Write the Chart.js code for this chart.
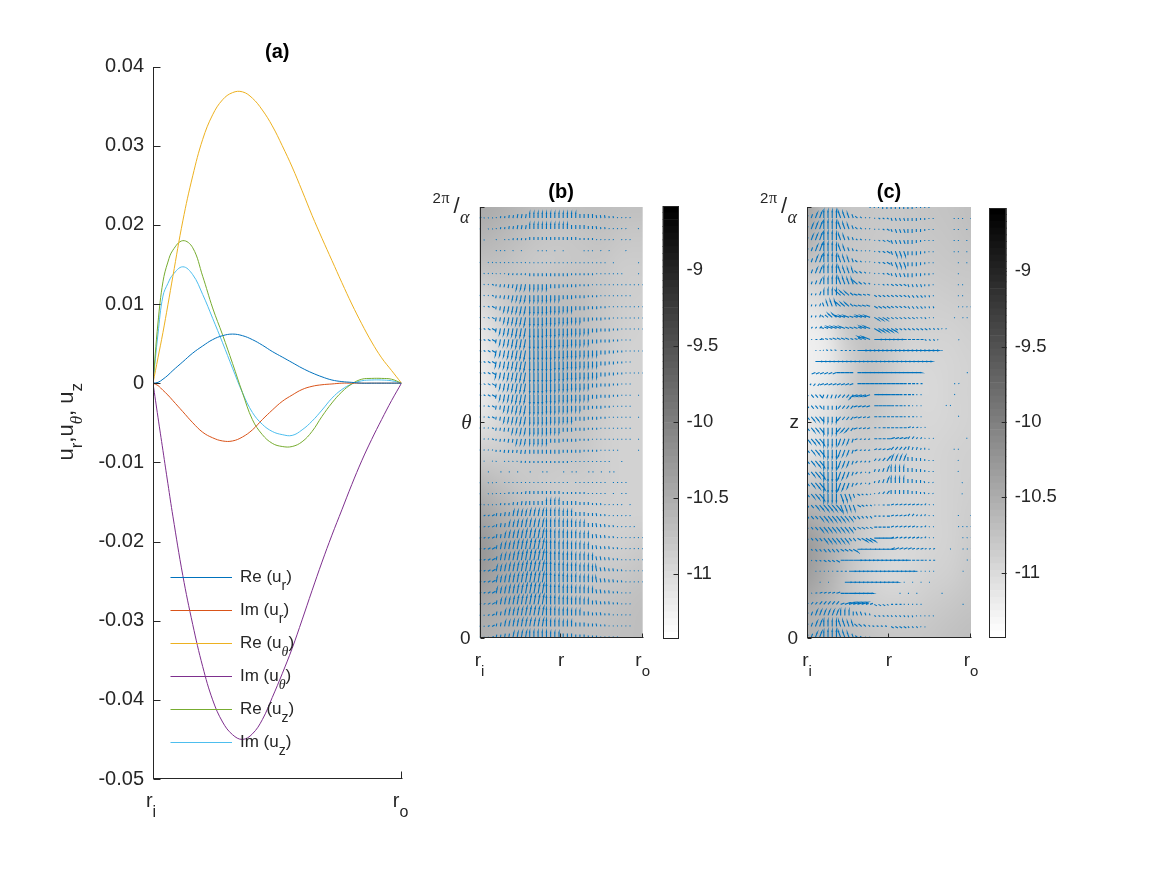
<!DOCTYPE html>
<html><head><meta charset="utf-8">
<script src="https://cdn.jsdelivr.net/npm/chart.js@4"></script>
<style>html,body{margin:0;background:#fff}canvas{position:absolute;left:0;top:0}</style>
</head><body>
<canvas id="a" width="1167" height="875"></canvas>
<canvas id="b" width="1167" height="875"></canvas>
<canvas id="cbB" width="1167" height="875"></canvas>
<canvas id="c" width="1167" height="875"></canvas>
<canvas id="cbC" width="1167" height="875"></canvas>
<script>
const radial = [0,.02,.04,.06,.08,.12,.16,.2,.24,.28,.32,.36,.4,.44,.48,.52,.56,.6,.64,.68,.72,.76,.8,.84,.88,.92,.96,1];
const reUr = [0,.0001,.0005,.0010,.0016,.0027,.0038,.0047,.0055,.0060,.0062,.0060,.0055,.0048,.0040,.0033,.0026,.0019,.0013,.0008,.0004,.0002,.0001,0,0,0,0,0];
const imUr = [0,-.0003,-.0009,-.0015,-.0022,-.0036,-.0050,-.0062,-.0069,-.0073,-.0073,-.0068,-.0059,-.0046,-.0034,-.0023,-.0015,-.0008,-.0004,-.0002,-.0001,0,0,0,0,0,0,0];
const reUt = [0,.0032,.0064,.0099,.0135,.0205,.0262,.0308,.0339,.0358,.0367,.0368,.0360,.0345,.0325,.0300,.0273,.0243,.0212,.0183,.0155,.0127,.0100,.0075,.0052,.0032,.0016,0];
const imUt = [0,-.0043,-.0085,-.0127,-.0168,-.0243,-.0305,-.0358,-.0400,-.0428,-.0444,-.0450,-.0443,-.0425,-.0397,-.0367,-.0335,-.0299,-.0262,-.0226,-.0192,-.0160,-.0128,-.0098,-.0071,-.0046,-.0022,0];
const reUz = [0,.0076,.0128,.0153,.0168,.0180,.0171,.0135,.0095,.0061,.0025,-.0012,-.0046,-.0065,-.0076,-.0080,-.0080,-.0074,-.0061,-.0042,-.0025,-.0011,-.0001,.0005,.0006,.0006,.0005,0];
const imUz = [0,.0062,.0110,.0126,.0137,.0147,.0137,.0112,.0082,.0051,.0019,-.0012,-.0037,-.0052,-.0061,-.0065,-.0066,-.0059,-.0048,-.0034,-.0019,-.0008,-.0001,.0003,.0004,.0004,.0003,0];
const seriesLabels = ['Re (u_r)','Im (u_r)','Re (u_θ)','Im (u_θ)','Re (u_z)','Im (u_z)'];
const seriesColors = ['#0072BD','#D95319','#EDB120','#7E2F8E','#77AC30','#4DBEEE'];
const velocityTicks = [-.05,-.04,-.03,-.02,-.01,0,.01,.02,.03,.04];
const colorTicks = [-11,-10.5,-10,-9.5,-9];

// background log-magnitude: top row first
const fieldB = [
[-10.48,-10.54,-10.62,-10.70,-10.73,-10.70,-10.70,-10.73,-10.73],
[-10.59,-10.65,-10.72,-10.78,-10.80,-10.78,-10.76,-10.80,-10.82],
[-10.75,-10.75,-10.80,-10.84,-10.82,-10.80,-10.82,-10.87,-10.87],
[-10.98,-10.87,-10.76,-10.72,-10.70,-10.72,-10.80,-10.87,-10.89],
[-11.15,-10.98,-10.78,-10.70,-10.68,-10.72,-10.82,-10.89,-10.93],
[-11.21,-11.04,-10.82,-10.72,-10.68,-10.72,-10.84,-10.93,-10.93],
[-11.21,-11.04,-10.84,-10.74,-10.70,-10.74,-10.84,-10.93,-10.93],
[-11.10,-10.98,-10.84,-10.78,-10.74,-10.78,-10.87,-10.93,-10.93],
[-10.87,-10.87,-10.84,-10.82,-10.80,-10.82,-10.89,-10.93,-10.93],
[-10.62,-10.72,-10.80,-10.84,-10.87,-10.87,-10.89,-10.93,-10.93],
[-10.40,-10.54,-10.68,-10.78,-10.84,-10.89,-10.93,-10.93,-10.93],
[-10.26,-10.42,-10.56,-10.68,-10.78,-10.85,-10.89,-10.89,-10.85],
[-10.30,-10.44,-10.56,-10.66,-10.74,-10.80,-10.82,-10.80,-10.76],
[-10.45,-10.50,-10.58,-10.66,-10.72,-10.76,-10.76,-10.74,-10.70],
[-10.52,-10.58,-10.64,-10.68,-10.72,-10.74,-10.74,-10.72,-10.70]];
const fieldC = [
[-10.42,-10.70,-10.78,-10.80,-10.82,-10.80,-10.78,-10.76,-10.72],
[-10.55,-10.76,-10.80,-10.82,-10.84,-10.82,-10.80,-10.78,-10.74],
[-10.82,-10.84,-10.80,-10.84,-10.87,-10.87,-10.84,-10.82,-10.80],
[-11.10,-10.98,-10.76,-10.80,-10.87,-10.89,-10.89,-10.87,-10.85],
[-11.24,-11.15,-10.82,-10.76,-10.84,-10.93,-10.93,-10.93,-10.89],
[-11.26,-11.20,-10.93,-10.74,-10.84,-10.98,-10.98,-10.96,-10.93],
[-11.24,-11.15,-10.90,-10.76,-10.87,-10.98,-11.00,-10.96,-10.93],
[-11.15,-11.06,-10.87,-10.82,-10.89,-10.96,-10.98,-10.96,-10.93],
[-11.12,-10.98,-10.87,-10.87,-10.93,-10.96,-10.96,-10.93,-10.91],
[-10.85,-10.80,-10.84,-10.89,-10.93,-10.96,-10.96,-10.93,-10.89],
[-10.50,-10.62,-10.76,-10.87,-10.95,-10.98,-10.96,-10.93,-10.87],
[-10.30,-10.50,-10.74,-10.90,-10.98,-11.00,-10.96,-10.93,-10.85],
[-10.35,-10.55,-10.78,-10.93,-11.00,-10.98,-10.93,-10.89,-10.82],
[-10.52,-10.64,-10.78,-10.87,-10.91,-10.89,-10.85,-10.80,-10.76],
[-10.58,-10.64,-10.70,-10.76,-10.80,-10.80,-10.78,-10.74,-10.70]];

// arrow magnitudes, one row per line from the top of the panel, one char per column (base 36, '.' = none)
const magB = [
"............................1...........",
"2111122334445555555555554444333221111...",
"1.1112233444555555555544443332211111..1.",
".1..1.112222333333333333222211111.111...",
"....111.1.1...111.1.1....111.1.1...1....",
"1.11111111111111111111111111111.1.....1.",
".1111112222233333333332222221111111...1.",
".112233445555555544433332221111111111111",
"1112334455666666655544433322211111111...",
"1123345566777777766655544433322111111111",
"1123445667788888777666555443332211111111",
"2234456678889999888777666554433322111111",
"2234456678889999888777666554433322111...",
"2234556778899999998887776665544332211111",
"2234556778899999998887776665544332211...",
"2234556778899999998887776665544332211111",
"2234456678889999888777666554433322111...",
"2234456678889999888777666554433322111.1.",
"1123445667788888777666555443332211111...",
"1123345566777777766655544433322111111.1.",
"1112334455666666655544433322211111111...",
".112233445555555544433332221111111111.1.",
"1111223333444444444433333222211111....1.",
".1.11.11112222222222221111111111..1.....",
"..1..1.1.1..1..11...1.11..11.1.11.......",
"1.111.1111111111111111.11111111.1111....",
"1.11111222233333333322222211111.1.11....",
"21111222334444445555444433322211111.1...",
".223334455556666666655544433322111111...",
"12233445566777777777666555444332211111..",
"2223445667788888887776665554433221111111",
"2234456678889999888777666554433322111111",
"2234456678899999988877766655443322111111",
"2234556778899999998887776665544332211111",
"2234556778899999998887776665544332211111",
"2234556778899999988877766655443322111...",
"2234456678889999888777666554433322111...",
"1123445667788888777666555443332211111...",
"1123345566777777766655544433322111111...",
"1112334455666666655544433322211111......"];
const magC = [
"...............111222222221111..........",
"3456777776543211122233333332211....111.1",
"3567888776543211112334444433211....11.1.",
"3567888765432211123444444432111....11.1.",
"3468888765432111123445554443211....11.1.",
"3467888776543211123445554443211.....1.1.",
"2456777776554321112334444433221.....1...",
"2345667777665432112233333333221.....11..",
"2224566666544433333333333333221.....11..",
"2223456665544444444433333333222.....1111",
"1223345555544555555333333322211....1.11.",
"1223345555444466666663333333322211......",
".1223334444334888888883333332221....1...",
"..1112222222aaaaaaaaaaaaaaaaaa111.......",
"..777777777777777777777777777...........",
"1.4444444444455555555555555...........1.",
"1233444444444444444444433322.......11...",
"2444444444455555555444333211.......1....",
"3444444444444444444433322111.....11.....",
"4555555554444433333333322211........1...",
"45566666555443332233333332211...........",
"5667777665543222333444443322111.......1.",
"456778887654322233344444433221.....11...",
"4577888876543222334555554433211.....1...",
"4578899987543212334555554433211.....1...",
"4578899987543212234555554433211......1..",
"4567888887543221123444444332211......1..",
"3456777776554322112333333332211.........",
"3445666665544333222333333322211.....1..1",
"2345555555544433333333333322211.....1111",
"2344555555444666665533333332211......111",
"1233444444455556666644444333222...1..111",
"1122333444499999999999833333222.......11",
"..11111222777777777777777111111......1..",
"...1.1...777777777777..1.1.1.1..........",
"1123333444777771......1.1.1.....1.......",
"2334444445666633333222211111.........1..",
"3455555555544432222222222211111.........",
"34566666665544322222333322211...........",
"3456677776543211........................"];
// arrow headings in tens of degrees (base 36) counter-clockwise from +r, one char per block of four columns
const headB = [
"2889999aaa","2889999aaa","2889999aaa","2889999aaa","2889999aaa","xqqrrrrrrr",
"xqqrrrrrrr","xqqrrrrrrr","xqqrrrrrrr","xqqrrrrrrr","xqqrrrrrrr","xqqrrrrrrr",
"xqqrrrrrrr","xqqrrrrrrr","xqqrrrrrrr","xqqrrrrrrr","xqqrrrrrrr","xqqrrrrrrr",
"xqqrrrrrrr","xqqrrrrrrr","xqqrrrrrrr","xqqrrrrrrr","xqqrrrrrrr","xqqrrrrrrr",
"0000000000","3899999999","3889999999","3889999aaa","3888999aaa","3888999aaa",
"3888999aaa","3888999aaa","3888999aaa","3888999aaa","3888999aaa","3888999aaa",
"3888999aaa","3888999aaa","3888999aaa","3889999aaa"];
const headC = [
"rrrrrrrrrr","79bextrrrr","79bextrrrr","79bextrrrr","79bextrrrr","79bextrrrr",
"79bextrrrr","79bexxtrrr","79egxxvtrr","7begxxvttt","7eggxxxvvv","5gggxxxxvv",
"0ggg000xxx","0g00000000","0000000000","kki0000000","nkk0000002","vpnk000022",
"vrnk000225","vrnk000257","vrnk002579","vrpk025799","vrpk257999","vrpn57999b",
"vrpn7999bb","vrpn799bbe","vrtx599beg","vvtx022599","vvvv025779","vvvx022557",
"vvvx022555","vvx0022222","xx00000022","0000000000","0000000000","2200000000",
"5522x00000","779bxvtttt","79begxvttt","79begxtttt"];

const ARROW_COLOR = '#0072BD', TEXT = '#262626';
const SANS = '"Liberation Sans", Arial, sans-serif', SERIF = '"Liberation Serif", serif';

function arrowLine(mag, head, spanX, spanY){
  const pts = [];
  const n = mag.length;
  mag.forEach((row, r) => {
    const k = n - 1 - r;
    for (let i = 0; i < 40; i++) {
      const ch = row[i];
      if (!ch || ch === '.' || ch === ' ') continue;
      const L = parseInt(ch, 36);
      const th = parseInt(head[r][Math.floor(i/4)], 36) * Math.PI / 18;
      const x = i / 39, y = k / (n - 1);
      const ux = L*Math.cos(th), uy = L*Math.sin(th);
      const tipX = x + ux/spanX, tipY = y + uy/spanY;
      pts.push({x, y}, {x: tipX, y: tipY});
      if (L >= 5) {
        const bx = -.2*ux, by = -.2*uy;
        pts.push({x: tipX + (bx + .3*by)/spanX, y: tipY + (by - .3*bx)/spanY},
                 {x: tipX, y: tipY},
                 {x: tipX + (bx - .3*by)/spanX, y: tipY + (by + .3*bx)/spanY});
      }
      pts.push({x: null, y: null});
    }
  });
  return pts;
}
function rich(ctx, x, y, text, size, subSize, drop, color){
  const parts = text.split(/_(.)/);
  ctx.fillStyle = color || TEXT; ctx.textBaseline = 'alphabetic'; ctx.textAlign = 'left';
  parts.forEach((p, i) => {
    if (!p) return;
    const sub = i % 2 === 1;
    ctx.font = (sub && p === 'θ') ? `italic ${subSize}px ${SERIF}` : `${sub ? subSize : size}px ${SANS}`;
    ctx.fillText(p, x, sub ? y + drop : y);
    x += ctx.measureText(p).width;
  });
  return x;
}
function richWidth(ctx, text, size, subSize){
  let w = 0;
  text.split(/_(.)/).forEach((p,i)=>{ if(!p) return; const sub=i%2===1;
    ctx.font = (sub && p==='θ') ? `italic ${subSize}px ${SERIF}` : `${sub?subSize:size}px ${SANS}`;
    w += ctx.measureText(p).width; });
  return w;
}
function grayOf(v){
  const t = (v - (-8.58)) / (-11.43 - (-8.58));
  return Math.max(0, Math.min(255, Math.round(255*t)));
}
const panelPlugin = {
  id: 'panel',
  beforeDatasetsDraw(chart, args, o){
    if (!o.field) return;
    const {ctx, chartArea: A, scales} = chart, f = o.field;
    const rows = f.length, cols = f[0].length;
    const off = document.createElement('canvas'); off.width = cols; off.height = rows;
    const oc = off.getContext('2d'), img = oc.createImageData(cols, rows);
    f.forEach((row, r) => row.forEach((v, c) => {
      const g = grayOf(v), p = (r*cols + c)*4;
      img.data[p]=g; img.data[p+1]=g; img.data[p+2]=g; img.data[p+3]=255;
    }));
    oc.putImageData(img,0,0);
    const hx = .5/(cols-1), hy = .5/(rows-1);
    const x0 = scales.x.getPixelForValue(-hx), x1 = scales.x.getPixelForValue(1+hx);
    const y0 = scales.y.getPixelForValue(1+hy), y1 = scales.y.getPixelForValue(-hy);
    ctx.save();
    ctx.beginPath(); ctx.rect(A.left, A.top, A.right-A.left, A.bottom-A.top); ctx.clip();
    ctx.imageSmoothingEnabled = true; ctx.imageSmoothingQuality = 'high';
    ctx.drawImage(off, x0, y0, x1-x0, y1-y0);
    ctx.restore();
  },
  afterDatasetsDraw(chart, args, o){
    if (o.draw) o.draw(chart, chart.ctx, chart.chartArea, chart.scales);
  }
};
Chart.register(panelPlugin);
Chart.defaults.animation = false;
Chart.defaults.devicePixelRatio = 1;
Chart.defaults.responsive = false;
Chart.defaults.plugins.legend.display = false;
Chart.defaults.plugins.tooltip.enabled = false;

function pad(l,t,r,b){ return {left:l, top:t, right:1167-r, bottom:875-b}; }
function axes(ctx, A, S, xTicks, yTicks, tick){
  ctx.save();
  ctx.strokeStyle = TEXT; ctx.lineWidth = 1;
  const L = Math.round(A.left)+.5, B = Math.round(A.bottom)-.5;
  ctx.beginPath();
  ctx.moveTo(L, Math.round(A.top)); ctx.lineTo(L, B+.5);
  ctx.moveTo(L-.5, B); ctx.lineTo(Math.round(A.right)+.5, B);
  xTicks.forEach(v => { const x = Math.round(S.x.getPixelForValue(v))-.5+ (v===0?1:0); ctx.moveTo(x,B); ctx.lineTo(x,B-tick); });
  yTicks.forEach(v => { const y = Math.round(S.y.getPixelForValue(v))+.5; ctx.moveTo(L,y); ctx.lineTo(L+tick,y); });
  ctx.stroke();
  ctx.restore();
}
function xLabel(ctx, x, y, main, sub, size){
  const t = sub ? main+'_'+sub : main, ss = size-4;
  const w = richWidth(ctx, t, size, ss);
  rich(ctx, x - w/2, y, t, size, ss, 10);
}
function title(ctx, x, y, t){
  ctx.font = `bold 20px ${SANS}`; ctx.fillStyle = '#000'; ctx.textAlign = 'center'; ctx.textBaseline='alphabetic';
  ctx.fillText(t, x, y);
}
function periodLabel(ctx, right, y){
  ctx.fillStyle = TEXT; ctx.textAlign='left'; ctx.textBaseline='alphabetic';
  ctx.font = `15px ${SANS}`; ctx.fillText('2', right-38, y-4);
  ctx.font = `16px ${SERIF}`; ctx.fillText('π', right-29, y-4);
  ctx.font = `22px ${SANS}`; ctx.fillText('/', right-17, y+6);
  ctx.font = `italic 18px ${SERIF}`; ctx.fillText('α', right-10.5, y+16);
}
function yWord(ctx, right, y, t, font){
  ctx.fillStyle = TEXT; ctx.textAlign='right'; ctx.textBaseline='middle'; ctx.font = font;
  ctx.fillText(t, right, y);
}

// panel (a)
new Chart(document.getElementById('a'), {
  type: 'scatter',
  data: { datasets: [reUr,imUr,reUt,imUt,reUz,imUz].map((vals,i)=>({
    label: seriesLabels[i], data: vals.map((v,j)=>({x:radial[j], y:v})), showLine:true,
    borderColor: seriesColors[i], borderWidth:1, pointRadius:0, tension:.4
  }))},
  options: {
    layout:{padding:pad(93,66.5,401.5,779)},
    scales:{
      x:{type:'linear',min:0,max:1,display:false},
      y:{type:'linear',min:-.05,max:.04,grid:{display:false,drawTicks:false},border:{display:false},
         afterFit(s){s.width=60;},
         afterBuildTicks(s){s.ticks=velocityTicks.map(value=>({value}));},
         ticks:{padding:9,color:TEXT,font:{family:SANS,size:20},callback:v=>String(+v.toFixed(2))}}
    },
    plugins:{panel:{draw(chart,ctx,A,S){
      axes(ctx,A,S,[0,1],velocityTicks,7);
      xLabel(ctx,S.x.getPixelForValue(0)-2,807,'r','i',20);
      xLabel(ctx,S.x.getPixelForValue(1)-1,807,'r','o',20);
      title(ctx,(A.left+A.right)/2,58,'(a)');
      // legend, built from the datasets
      const lx0=A.left+17.5, lx1=A.left+79, tx=A.left+87;
      chart.data.datasets.forEach((d,i)=>{
        const y=577.5+33*i;
        ctx.strokeStyle=d.borderColor; ctx.lineWidth=1;
        ctx.beginPath(); ctx.moveTo(lx0,y); ctx.lineTo(lx1,y); ctx.stroke();
        rich(ctx,tx,y+4,d.label,17,14,8);
      });
      ctx.save(); ctx.translate(73,(A.top+A.bottom)/2-1); ctx.rotate(-Math.PI/2);
      const yl='u_r,u_θ, u_z', w=richWidth(ctx,yl,22,17);
      rich(ctx,-w/2,0,yl,22,17,9); ctx.restore();
    }}}
  }
});

function quiverChart(id, L, R, mag, head, field, word, wordFont, ttl){
  return new Chart(document.getElementById(id), {
    type:'scatter',
    data:{datasets:[{label:'velocity',data:arrowLine(mag,head,R-L,430.5),showLine:true,spanGaps:false,
      borderColor:ARROW_COLOR,borderWidth:1.1,pointRadius:0,tension:.0001,capBezierPoints:false}]},
    options:{
      layout:{padding:pad(L,207,R,637.5)},
      scales:{x:{type:'linear',min:0,max:1,display:false},y:{type:'linear',min:0,max:1,display:false}},
      plugins:{panel:{field,draw(chart,ctx,A,S){
        axes(ctx,A,S,[0,.5,1],[0,.5,1],4);
        const yb=666;
        xLabel(ctx,S.x.getPixelForValue(0),yb,'r','i',19);
        xLabel(ctx,S.x.getPixelForValue(.5),yb,'r','',19);
        xLabel(ctx,S.x.getPixelForValue(1),yb,'r','o',19);
        yWord(ctx,A.left-9,S.y.getPixelForValue(0)+1,'0',`19px ${SANS}`);
        yWord(ctx,A.left-8,S.y.getPixelForValue(.5)+1,word,wordFont);
        periodLabel(ctx,A.left-9,S.y.getPixelForValue(1));
        title(ctx,(A.left+A.right)/2,198,ttl);
      }}}
    }
  });
}
quiverChart('b',479.5,642.7,magB,headB,fieldB,'θ',`italic 21px ${SERIF}`,'(b)');
quiverChart('c',807,971,magC,headC,fieldC,'z',`19px ${SANS}`,'(c)');

// colour bars: 64 gray levels as floating bars
const levels = 64, cMin=-11.43, cMax=-8.58;
const levelEdges = Array.from({length:levels+1},(_,i)=>cMin+(cMax-cMin)*i/levels);
function colorbar(id,L,T,R,B){
  return new Chart(document.getElementById(id),{
    type:'bar',
    data:{labels:['log'],datasets:levelEdges.slice(0,-1).map((lo,i)=>{
      const g=Math.round(255*(1-i/(levels-1)));
      return {label:'L'+i,data:[[lo,levelEdges[i+1]]],backgroundColor:`rgb(${g},${g},${g})`,
        grouped:false,barPercentage:1,categoryPercentage:1};
    })},
    options:{
      layout:{padding:pad(L,T,R+60,B)},
      scales:{
        x:{display:false},
        y:{position:'right',min:cMin,max:cMax,grid:{display:false,drawTicks:false},border:{display:false},
          afterFit(s){s.width=60;},
          afterBuildTicks(s){s.ticks=colorTicks.map(value=>({value}));},
          ticks:{padding:8,color:TEXT,font:{family:SANS,size:18.5},callback:v=>String(v)}}
      },
      plugins:{panel:{draw(chart,ctx,A,S){
        ctx.save(); ctx.strokeStyle=TEXT; ctx.lineWidth=1;
        ctx.strokeRect(Math.round(A.left)+.5,Math.round(A.top)+.5,Math.round(A.right-A.left)-1,Math.round(A.bottom-A.top)-1);
        ctx.beginPath();
        colorTicks.forEach(v=>{const y=Math.round(S.y.getPixelForValue(v))+.5;ctx.moveTo(A.right,y);ctx.lineTo(A.right-5,y);});
        ctx.stroke(); ctx.restore();
      }}}
    }
  });
}
colorbar('cbB',662.5,206,678.5,639);
colorbar('cbC',989.3,208,1006.7,637.5);
</script>
</body></html>
